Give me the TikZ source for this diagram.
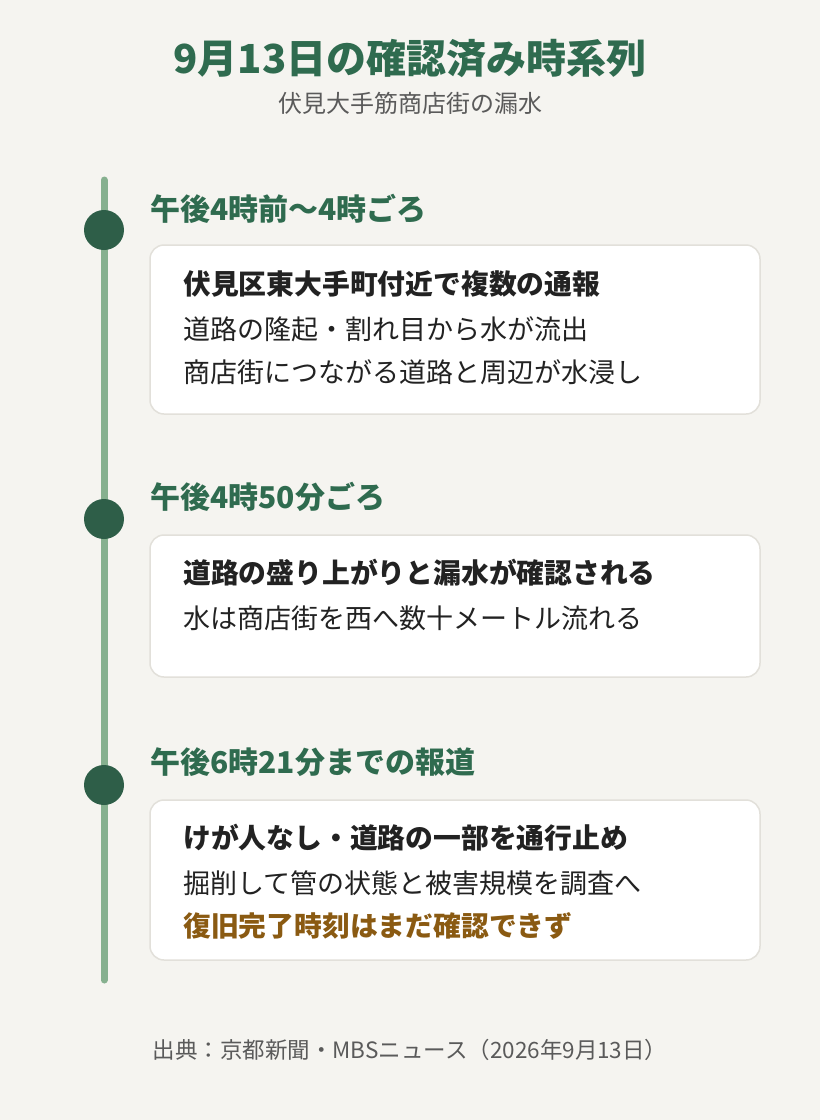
\documentclass[tikz,border=0pt]{standalone}
\usepackage{fontspec}
\setmainfont{Noto Sans CJK JP}
\begin{document}
\definecolor{bg}{HTML}{F5F4F0}
\definecolor{green}{HTML}{2F6B4F}
\definecolor{dot}{HTML}{2E5E48}
\definecolor{line}{HTML}{86B08F}
\definecolor{gr}{HTML}{5A5A5A}
\definecolor{txt}{HTML}{222222}
\definecolor{brd}{HTML}{E2E0DA}
\definecolor{brown}{HTML}{8A5A12}
\begin{tikzpicture}[x=1pt,y=-1pt,
  head/.style={anchor=west,inner sep=0,font=\fontsize{30}{34}\selectfont\bfseries,text=green},
  bold/.style={anchor=west,inner sep=0,font=\fontsize{27.8}{32}\selectfont\bfseries,text=txt},
  body/.style={anchor=west,inner sep=0,font=\fontsize{27}{32}\selectfont,text=txt},
  card/.style={fill=white,draw=brd,line width=1.5pt,rounded corners=14pt},
  dotc/.style={circle,fill=dot,minimum size=40pt,inner sep=0}]
\fill[bg] (0,0) rectangle (820,1120);
\node[font=\fontsize{40}{46}\selectfont\bfseries,text=green] (t) at (410,58) {9月13日の確認済み時系列};
\node[font=\fontsize{24}{28}\selectfont,text=gr] (s) at (410,103) {伏見大手筋商店街の漏水};
\draw[line,line width=7pt,line cap=round] (104,180) coordinate (l1) -- (104,980) coordinate (l2);
\node[dotc] (d1) at (104,230) {};
\node[dotc] (d2) at (104,519) {};
\node[dotc] (d3) at (104,785) {};
\node[head] (h1) at (150,209) {午後4時前〜4時ごろ};
\node[head] (h2) at (150,497) {午後4時50分ごろ};
\node[head] (h3) at (150,762) {午後6時21分までの報道};
\draw[card] (150,245) rectangle (760,414);
\draw[card] (150,535) rectangle (760,677);
\draw[card] (150,800) rectangle (760,960);
\node[bold] (a1) at (183,284) {伏見区東大手町付近で複数の通報};
\node[body] (a2) at (183,329) {道路の隆起・割れ目から水が流出};
\node[body] (a3) at (183,372) {商店街につながる道路と周辺が水浸し};
\node[bold] (b1) at (183,573) {道路の盛り上がりと漏水が確認される};
\node[body] (b2) at (183,618) {水は商店街を西へ数十メートル流れる};
\node[bold] (c1) at (183,838) {けが人なし・道路の一部を通行止め};
\node[body] (c2) at (183,883) {掘削して管の状態と被害規模を調査へ};
\node[bold,text=brown] (c3) at (183,926) {復旧完了時刻はまだ確認できず};
\node[font=\fontsize{22.5}{26}\selectfont,text=gr] (f) at (410,1050) {出典：京都新聞・MBSニュース（2026年9月13日）};
\end{tikzpicture}
\end{document}
